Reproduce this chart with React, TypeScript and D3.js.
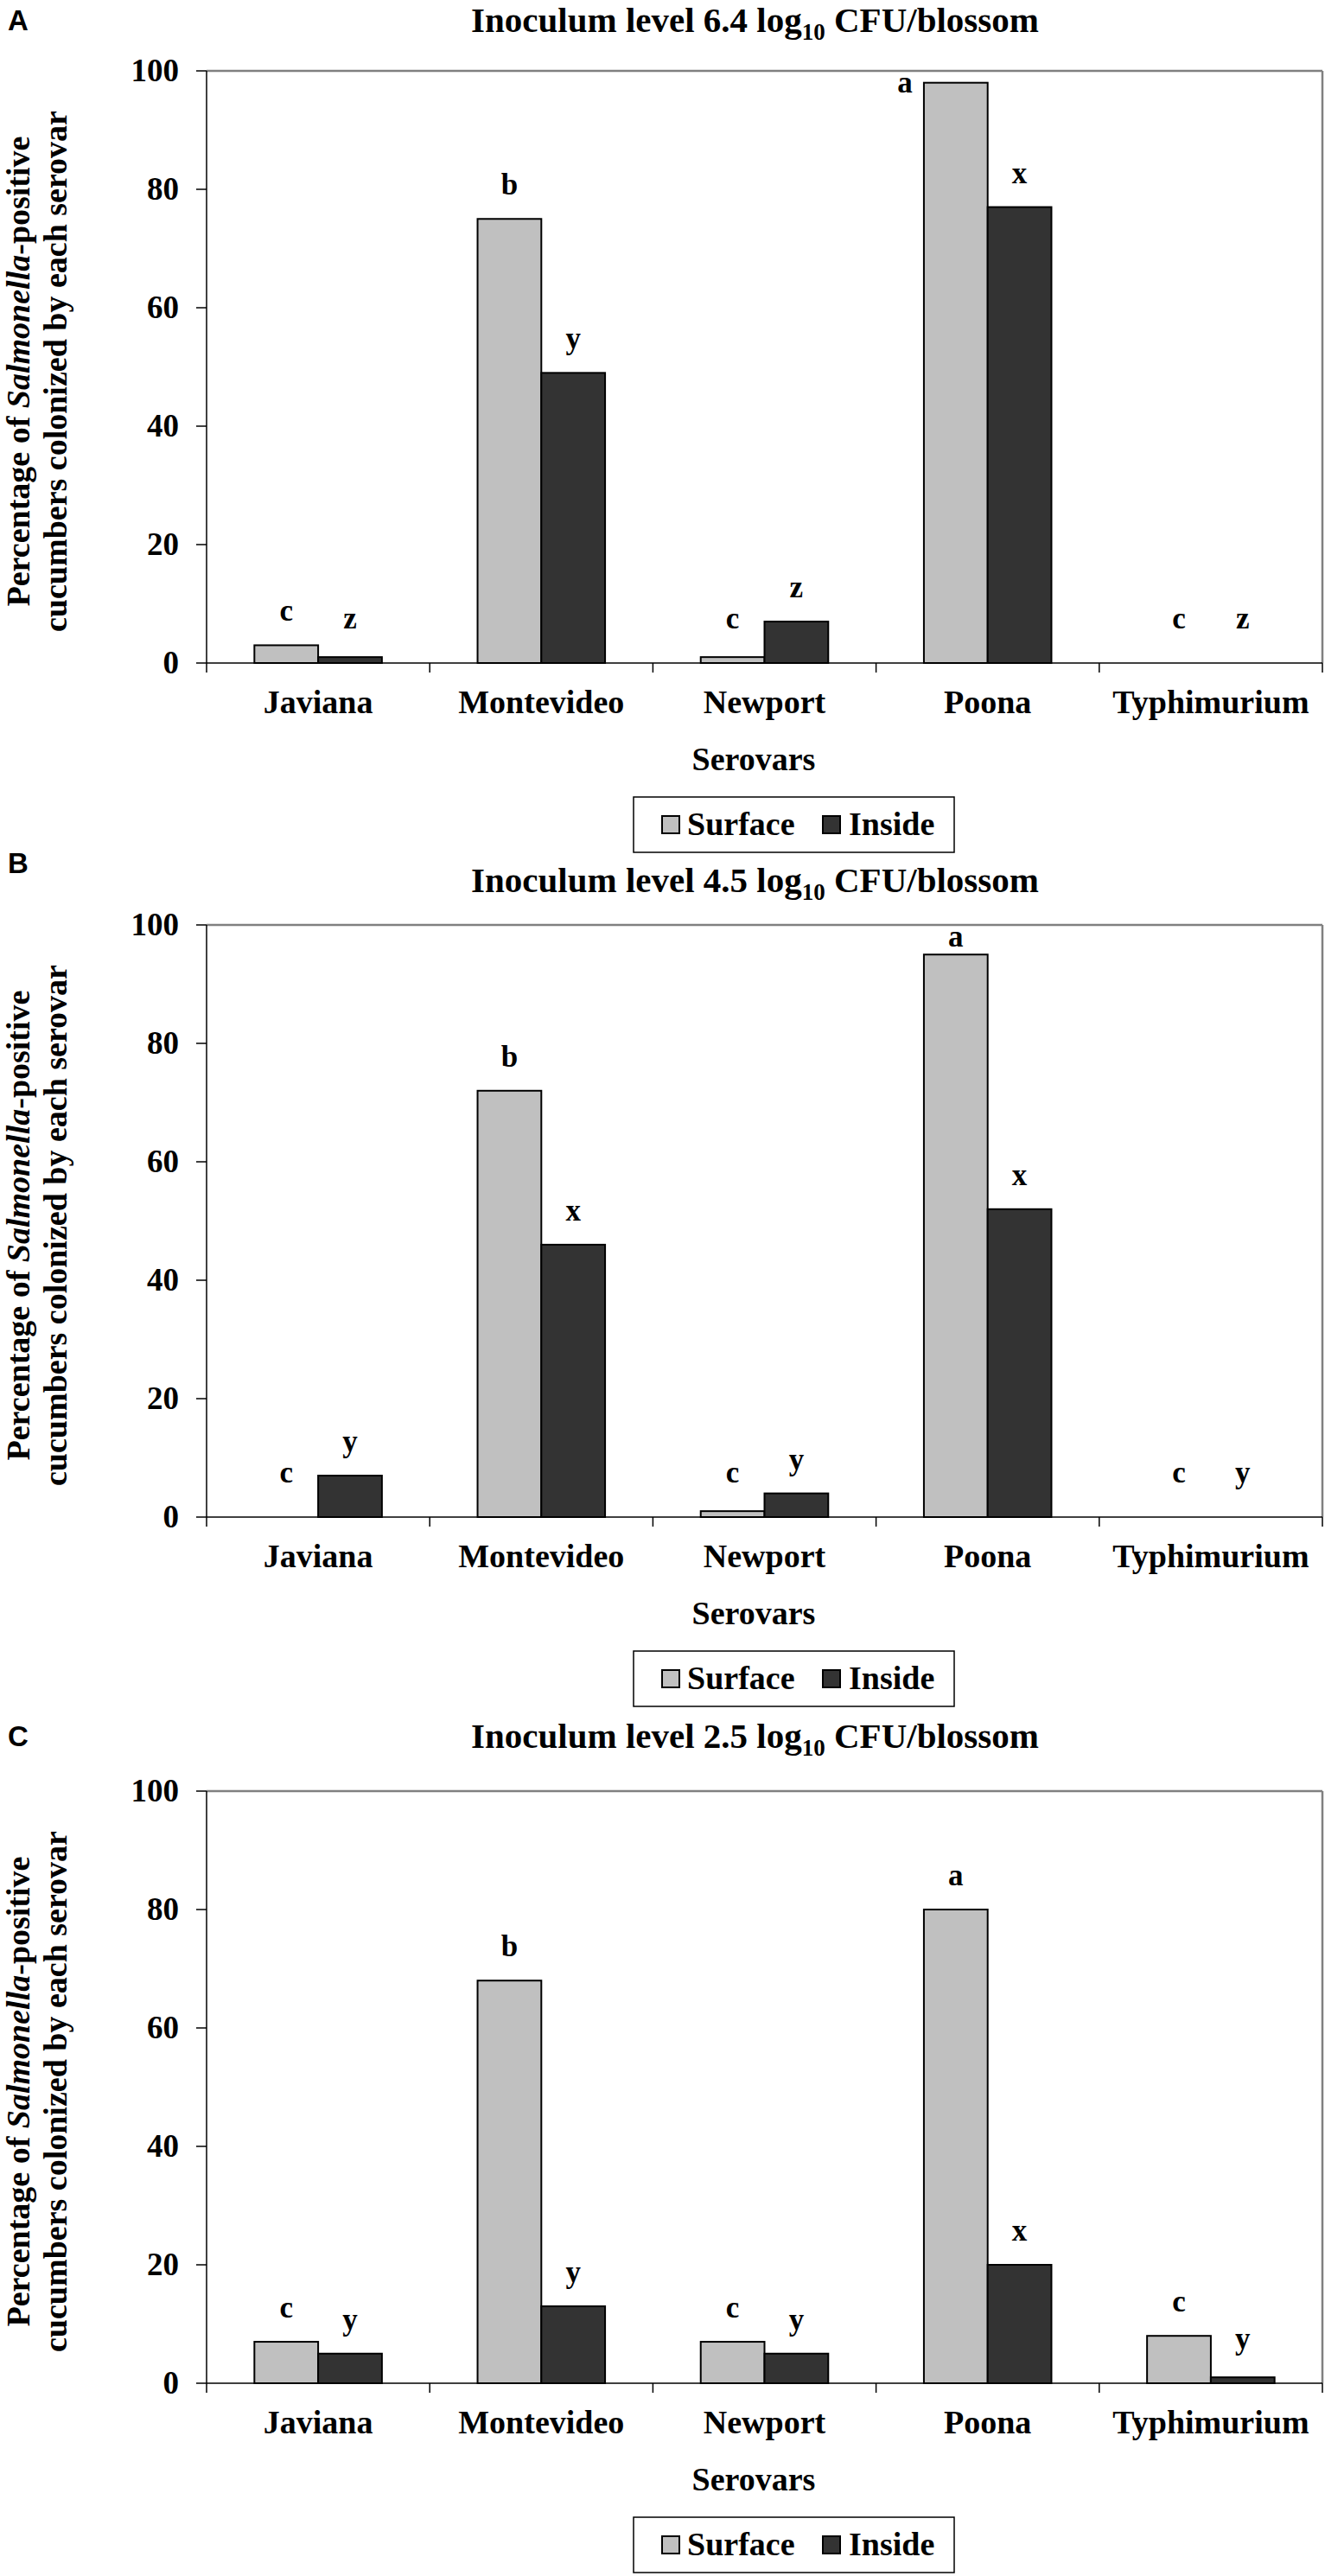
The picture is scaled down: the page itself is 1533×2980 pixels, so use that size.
import * as d3 from "d3";

const serovars = ["Javiana", "Montevideo", "Newport", "Poona", "Typhimurium"];
const seriesNames = ["Surface", "Inside"];
const yTicks = [0, 20, 40, 60, 80, 100];
const panelLetters = ["A", "B", "C"];
const inoculumLevels = ["6.4", "4.5", "2.5"];

// percentage of positive cucumbers, per serovar
const surfaceA = [3, 75, 1, 98, 0];
const insideA = [1, 49, 7, 77, 0];
const surfaceB = [0, 72, 1, 95, 0];
const insideB = [7, 46, 4, 52, 0];
const surfaceC = [7, 68, 7, 80, 8];
const insideC = [5, 13, 5, 20, 1];

// significance letters
const surfaceLettersA = ["c", "b", "c", "a", "c"];
const insideLettersA = ["z", "y", "z", "x", "z"];
const surfaceLettersB = ["c", "b", "c", "a", "c"];
const insideLettersB = ["y", "x", "y", "x", "y"];
const surfaceLettersC = ["c", "b", "c", "a", "c"];
const insideLettersC = ["y", "y", "y", "x", "y"];

const colors = ["#c0c0c0", "#333333"];
const SERIF = "'Liberation Serif', 'Times New Roman', serif";
const SANS = "'Liberation Sans', Arial, sans-serif";

const W = 1533;
const H = 2980;
const LEFT = 239;
const RIGHT = 1530;

type PanelProps = {
  letter: string;
  level: string;
  surface: number[];
  inside: number[];
  surfaceLetters: string[];
  insideLetters: string[];
  labelY: number;
  titleY: number;
  top: number;
  zero: number;
};

function Panel(p: PanelProps) {
  const x = d3.scaleBand<string>().domain(serovars).range([LEFT, RIGHT]).padding(0);
  const xs = d3
    .scaleBand<string>()
    .domain(seriesNames)
    .range([0, x.bandwidth()])
    .paddingInner(0)
    .paddingOuter(0.75);
  const y = d3.scaleLinear().domain([0, 100]).range([p.zero, p.top]);
  const bw = xs.bandwidth();

  const series = [
    { name: "Surface", values: p.surface, letters: p.surfaceLetters },
    { name: "Inside", values: p.inside, letters: p.insideLetters },
  ];

  const midX = (LEFT + RIGHT) / 2 - 11;

  return (
    <g>
      <text x={9} y={p.labelY} fontFamily={SANS} fontWeight="bold" fontSize={33}>
        {p.letter}
      </text>
      <text x={midX} y={p.titleY} textAnchor="middle" fontFamily={SERIF} fontWeight="bold" fontSize={41}>
        Inoculum level {p.level} log
        <tspan fontSize={27} dy={9}>10</tspan>
        <tspan dy={-9}> CFU/blossom</tspan>
      </text>

      {/* plot frame */}
      <line x1={LEFT} x2={RIGHT} y1={p.top} y2={p.top} stroke="#808080" strokeWidth={2.5} />
      <line x1={RIGHT} x2={RIGHT} y1={p.top} y2={p.zero} stroke="#808080" strokeWidth={2.5} />

      {/* bars */}
      {series.map((s, si) =>
        serovars.map((c, i) =>
          s.values[i] > 0 ? (
            <rect
              key={s.name + c}
              x={(x(c) ?? 0) + (xs(s.name) ?? 0)}
              y={y(s.values[i])}
              width={bw}
              height={p.zero - y(s.values[i])}
              fill={colors[si]}
              stroke="#000"
              strokeWidth={2}
            />
          ) : null
        )
      )}

      {/* letters */}
      {series.map((s) =>
        serovars.map((c, i) => {
          const v = s.values[i];
          const cx = (x(c) ?? 0) + (xs(s.name) ?? 0) + bw / 2;
          let by = Math.min(y(v) - 28, p.zero - 40);
          let lx = cx;
          if (by < p.top + 25) {
            by = p.top + 25;
            if (by > y(v)) lx = (x(c) ?? 0) + (xs(s.name) ?? 0) - 22;
          }
          return (
            <text
              key={"l" + s.name + c}
              x={lx}
              y={by}
              textAnchor="middle"
              fontFamily={SERIF}
              fontWeight="bold"
              fontSize={35}
            >
              {s.letters[i]}
            </text>
          );
        })
      )}

      {/* y axis */}
      <line x1={LEFT} x2={LEFT} y1={p.top} y2={p.zero} stroke="#000" strokeWidth={1.5} />
      {yTicks.map((t) => (
        <g key={t}>
          <line x1={LEFT - 12} x2={LEFT} y1={y(t)} y2={y(t)} stroke="#000" strokeWidth={1.5} />
          <text
            x={207}
            y={y(t) + 12}
            textAnchor="end"
            fontFamily={SERIF}
            fontWeight="bold"
            fontSize={37}
          >
            {t}
          </text>
        </g>
      ))}

      {/* x axis */}
      <line x1={LEFT} x2={RIGHT} y1={p.zero} y2={p.zero} stroke="#000" strokeWidth={1.5} />
      {[...serovars.map((c) => x(c) ?? 0), RIGHT].map((tx, i) => (
        <line key={i} x1={tx} x2={tx} y1={p.zero} y2={p.zero + 11} stroke="#000" strokeWidth={1.5} />
      ))}
      {serovars.map((c) => (
        <text
          key={"c" + c}
          x={(x(c) ?? 0) + x.bandwidth() / 2}
          y={p.zero + 58}
          textAnchor="middle"
          fontFamily={SERIF}
          fontWeight="bold"
          fontSize={38}
        >
          {c}
        </text>
      ))}
      <text x={872} y={p.zero + 124} textAnchor="middle" fontFamily={SERIF} fontWeight="bold" fontSize={38}>
        Serovars
      </text>

      {/* y axis title */}
      <text
        transform={`translate(34,${(p.top + p.zero) / 2 + 5}) rotate(-90)`}
        textAnchor="middle"
        fontFamily={SERIF}
        fontWeight="bold"
        fontSize={38}
      >
        Percentage of <tspan fontStyle="italic">Salmonella</tspan>-positive
      </text>
      <text
        transform={`translate(77,${(p.top + p.zero) / 2 + 5}) rotate(-90)`}
        textAnchor="middle"
        fontFamily={SERIF}
        fontWeight="bold"
        fontSize={38}
      >
        cucumbers colonized by each serovar
      </text>

      {/* legend */}
      <g transform={`translate(733,${p.zero + 155})`}>
        <rect x={0} y={0} width={371} height={64} fill="#fff" stroke="#000" strokeWidth={1.5} />
        {seriesNames.map((s, i) => (
          <g key={s} transform={`translate(${i === 0 ? 33 : 219},0)`}>
            <rect x={0} y={22} width={20} height={20} fill={colors[i]} stroke="#000" strokeWidth={2} />
            <text x={i === 0 ? 29 : 30} y={44} fontFamily={SERIF} fontWeight="bold" fontSize={38}>
              {s}
            </text>
          </g>
        ))}
      </g>
    </g>
  );
}

export default function App() {
  return (
    <div style={{ position: "absolute", left: 0, top: 0, background: "#fff" }}>
      <svg width={W} height={H} viewBox={`0 0 ${W} ${H}`} style={{ display: "block" }}>
        <rect width={W} height={H} fill="#fff" />
        <Panel
          letter={panelLetters[0]}
          level={inoculumLevels[0]}
          surface={surfaceA}
          inside={insideA}
          surfaceLetters={surfaceLettersA}
          insideLetters={insideLettersA}
          labelY={35}
          titleY={37}
          top={82}
          zero={767}
        />
        <Panel
          letter={panelLetters[1]}
          level={inoculumLevels[1]}
          surface={surfaceB}
          inside={insideB}
          surfaceLetters={surfaceLettersB}
          insideLetters={insideLettersB}
          labelY={1010}
          titleY={1032}
          top={1070}
          zero={1755}
        />
        <Panel
          letter={panelLetters[2]}
          level={inoculumLevels[2]}
          surface={surfaceC}
          inside={insideC}
          surfaceLetters={surfaceLettersC}
          insideLetters={insideLettersC}
          labelY={2020}
          titleY={2022}
          top={2072}
          zero={2757}
        />
      </svg>
    </div>
  );
}
